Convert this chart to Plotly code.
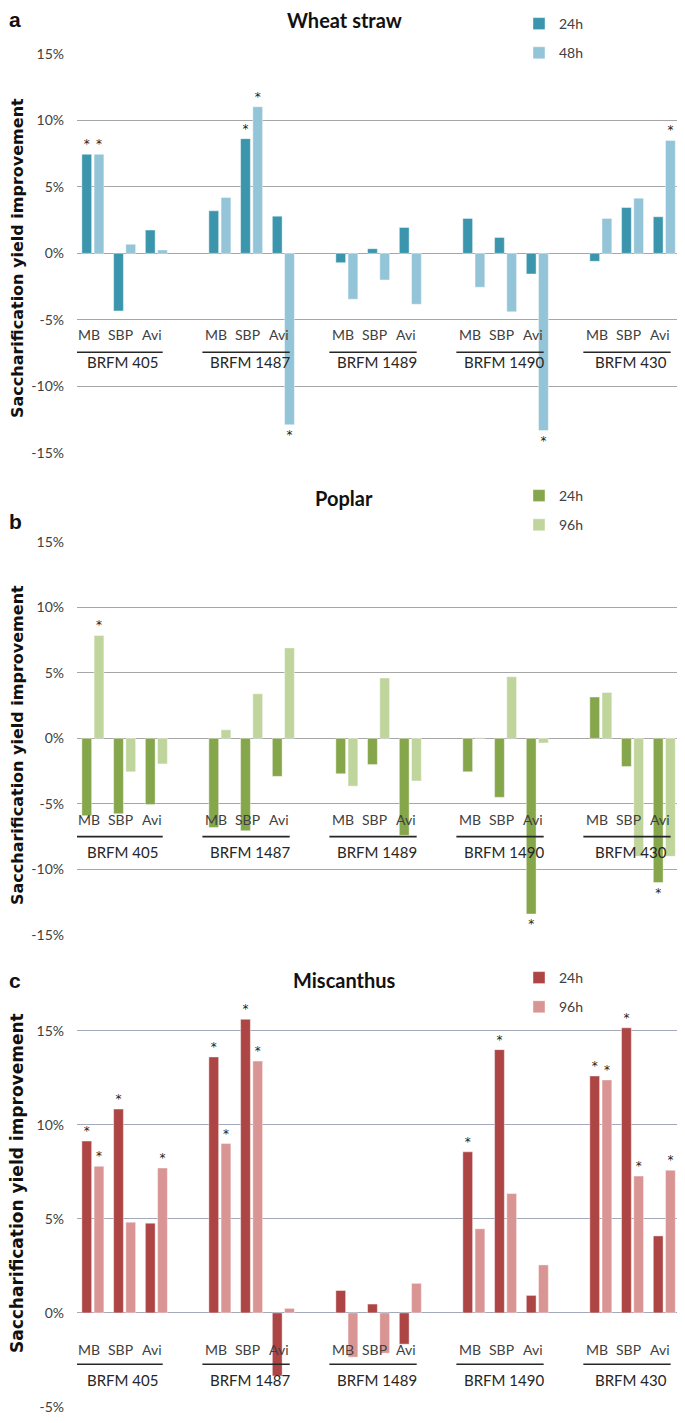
import plotly.graph_objects as go

# ---- data (% improvement) ----
treatments = ["MB", "SBP", "Avi"]
strains = ["BRFM 405", "BRFM 1487", "BRFM 1489", "BRFM 1490", "BRFM 430"]
tick_vals = [-15, -10, -5, 0, 5, 10, 15]
tick_text = ["-15%", "-10%", "-5%", "0%", "5%", "10%", "15%"]

# a - wheat straw (24h / 48h)
wheat_24h = [7.45, -4.33, 1.75, 3.2, 8.63, 2.8, -0.7, 0.35, 1.95, 2.63, 1.2, -1.55, -0.6, 3.45, 2.75]
wheat_48h = [7.45, 0.68, 0.25, 4.2, 11.03, -12.9, -3.45, -2.0, -3.83, -2.55, -4.4, -13.33, 2.63, 4.15, 8.5]
wheat_sig_24h = [1, 0, 0, 0, 1, 0, 0, 0, 0, 0, 0, 0, 0, 0, 0]
wheat_sig_48h = [1, 0, 0, 0, 1, 1, 0, 0, 0, 0, 0, 1, 0, 0, 1]

# b - poplar (24h / 96h)
poplar_24h = [-5.9, -5.75, -5.05, -6.8, -7.05, -2.9, -2.7, -2.0, -7.4, -2.55, -4.5, -13.4, 3.15, -2.15, -11.0]
poplar_96h = [7.85, -2.55, -1.95, 0.65, 3.4, 6.9, -3.65, 4.6, -3.25, 0.05, 4.7, -0.35, 3.5, -9.0, -9.0]
poplar_sig_24h = [0, 0, 0, 0, 0, 0, 0, 0, 0, 0, 0, 1, 0, 0, 1]
poplar_sig_96h = [1, 0, 0, 0, 0, 0, 0, 0, 0, 0, 0, 0, 0, 0, 0]

# c - miscanthus (24h / 96h)
misc_24h = [9.13, 10.83, 4.77, 13.6, 15.6, -3.35, 1.19, 0.47, -1.66, 8.56, 13.99, 0.93, 12.59, 15.15, 4.09]
misc_96h = [7.79, 4.82, 7.7, 9.0, 13.38, 0.24, -2.35, -2.14, 1.57, 4.47, 6.34, 2.55, 12.38, 7.27, 7.58]
misc_sig_24h = [1, 1, 0, 1, 1, 0, 0, 0, 0, 1, 1, 0, 1, 1, 0]
misc_sig_96h = [1, 0, 1, 1, 1, 0, 0, 0, 0, 0, 0, 0, 1, 1, 1]

# the page body has an 8px margin all round; keep the figure inside the window
OFF = 8
W, H = 685 - 2 * OFF, 1423 - 2 * OFF


def px(x):
    # screen column -> paper x
    return (x - OFF) / W


def py(y):
    # screen row -> paper y
    return 1 - (y - OFF) / H


# one blank slot between strains
xpos = [4 * g + t for g in range(len(strains)) for t in range(len(treatments))]

panels = [
    dict(letter="a", title="Wheat straw", names=["24h", "48h"],
         colors=["#3b96ad", "#93c4d7"], series=[wheat_24h, wheat_48h],
         sig=[wheat_sig_24h, wheat_sig_48h], yrange=[-15, 15],
         dom=[py(452.7), py(54)], grid="#a6a6a6",
         lab_y=(-6.14, -7.44, -8.2), top=20, letter_y=20, leg=8, ytitle=258, tsize=16),
    dict(letter="b", title="Poplar", names=["24h", "96h"],
         colors=["#86a64b", "#bfd59c"], series=[poplar_24h, poplar_96h],
         sig=[poplar_sig_24h, poplar_sig_96h], yrange=[-15, 15],
         dom=[py(935), py(541.7)], grid="#a6a6a6",
         lab_y=(-6.2, -7.5, -8.7), top=498, letter_y=522, leg=480, ytitle=745, tsize=16),
    dict(letter="c", title="Miscanthus", names=["24h", "96h"],
         colors=["#ad4545", "#d99594"], series=[misc_24h, misc_96h],
         sig=[misc_sig_24h, misc_sig_96h], yrange=[-5, 17],
         dom=[py(1407), py(993)], grid="#a3a9ba",
         lab_y=(-1.92, -2.73, -3.56), top=980, letter_y=980, leg=962, ytitle=1183, tsize=17),
]

fig = go.Figure()
annotations = []
shapes = []
layout = {}
tick_font = dict(family="Lato", size=14, color="#404040")

for i, p in enumerate(panels):
    n = "" if i == 0 else str(i + 1)
    xa, ya = "x" + n, "y" + n
    legend_name = "legend" + n

    for k in range(2):
        fig.add_trace(go.Bar(
            x=xpos, y=p["series"][k], name=p["names"][k],
            marker=dict(color=p["colors"][k], line=dict(width=0.6, color="rgba(255,255,255,0.7)")),
            text=["*" if s else "" for s in p["sig"][k]],
            textposition="outside", cliponaxis=False, constraintext="none",
            textfont=dict(family="DejaVu Sans", size=12, color="#222222"),
            xaxis=xa, yaxis=ya, legend=legend_name, legendgroup=f"{i}_{k}",
        ))

    layout["xaxis" + n] = dict(domain=[px(77), 1], range=[-0.5, 18.4], visible=False,
                               anchor=ya, automargin=False)
    layout["yaxis" + n] = dict(domain=p["dom"], range=p["yrange"], anchor=xa,
                               tickvals=tick_vals, ticktext=tick_text, tickfont=tick_font,
                               showgrid=True, gridcolor=p["grid"], gridwidth=1,
                               zeroline=False, showline=False, ticks="",
                               ticklabelstandoff=12, fixedrange=True, automargin=False)
    layout[legend_name] = dict(x=px(519), y=min(py(p["leg"]), 1), xanchor="left", yanchor="top",
                               font=dict(family="Lato", size=14, color="#404040"),
                               bgcolor="rgba(0,0,0,0)", tracegroupgap=8)

    ty, ly, sy = p["lab_y"]
    for g, strain in enumerate(strains):
        for t, tr in enumerate(treatments):
            annotations.append(dict(x=4 * g + t, y=ty, xref=xa, yref=ya, text=tr,
                                    showarrow=False, xshift=-4,
                                    xanchor="center", yanchor="middle",
                                    font=dict(family="Lato", size=14, color="#404040")))
        shapes.append(dict(type="line", xref=xa, yref=ya, x0=4 * g - 0.55, x1=4 * g + 2.2,
                           y0=ly, y1=ly, line=dict(color="#262626", width=1.6)))
        annotations.append(dict(x=4 * g + 1, y=sy, xref=xa, yref=ya, text=strain,
                                showarrow=False, xshift=-2,
                                xanchor="center", yanchor="middle",
                                font=dict(family="Lato", size=15, color="#262626")))

    # panel title, letter and y axis title
    annotations.append(dict(x=px(344), y=py(p["top"]), xref="paper", yref="paper",
                            text="<b>" + p["title"] + "</b>", showarrow=False,
                            xanchor="center", yanchor="middle",
                            font=dict(family="Lato", size=20, color="#111111")))
    annotations.append(dict(x=px(15), y=py(p["letter_y"]), xref="paper", yref="paper",
                            text="<b>" + p["letter"] + "</b>", showarrow=False,
                            xanchor="center", yanchor="middle",
                            font=dict(family="Liberation Sans", size=21, color="#111111")))
    annotations.append(dict(x=px(17), y=py(p["ytitle"]), xref="paper", yref="paper",
                            text="<b>Saccharification yield improvement</b>", textangle=-90,
                            showarrow=False, xanchor="center", yanchor="middle",
                            font=dict(family="DejaVu Sans", size=p["tsize"], color="#111111")))

fig.update_layout(
    width=W, height=H,
    margin=dict(l=0, r=0, t=0, b=0),
    paper_bgcolor="white", plot_bgcolor="white",
    barmode="group", bargap=0.23, bargroupgap=0.2,
    annotations=annotations, shapes=shapes,
    **layout,
)

fig.write_html("out.html")
